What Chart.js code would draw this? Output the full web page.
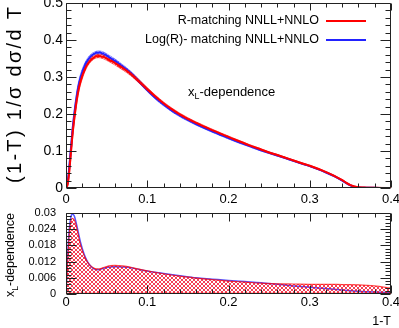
<!DOCTYPE html>
<html><head><meta charset="utf-8">
<script src="https://cdn.jsdelivr.net/npm/chart.js@4.4.0/dist/chart.umd.min.js"></script>
<style>
html,body{margin:0;padding:0;background:#fff;}
#wrap{position:relative;width:399px;height:328px;overflow:hidden;}
#c1{position:absolute;left:0;top:0;}
#c2{position:absolute;left:0;top:206px;}
</style></head>
<body><div id="wrap"><canvas id="c1" width="399" height="212"></canvas><canvas id="c2" width="399" height="122"></canvas></div>
<script>
// ---------- data ----------
const xTop = [0,0.002,0.004,0.006,0.008,0.01,0.013,0.016,0.02,0.025,0.03,0.035,0.04,0.045,0.05,0.06,0.07,0.08,0.09,0.1,0.11,0.12,0.13,0.14,0.15,0.16,0.175,0.19,0.2,0.21,0.225,0.24,0.25,0.26,0.275,0.29,0.3,0.31,0.32,0.33,0.34,0.345,0.35,0.355,0.36,0.37,0.38,0.39,0.4];
const redCentral = [0,0.01,0.045,0.095,0.145,0.185,0.235,0.272,0.303,0.329,0.345,0.354,0.357,0.355,0.350,0.338,0.324,0.308,0.288,0.267,0.247,0.229,0.213,0.199,0.187,0.176,0.161,0.147,0.138,0.129,0.116,0.104,0.096,0.089,0.078,0.067,0.06,0.052,0.043,0.033,0.021,0.014,0.008,0.004,0.002,0.001,0.0005,0.0002,0];
const redHalfBand = [0,0.006,0.012,0.014,0.014,0.014,0.012,0.010,0.008,0.006,0.0053,0.0048,0.0047,0.0049,0.005,0.0053,0.0053,0.005,0.0047,0.0043,0.004,0.0037,0.0035,0.0033,0.003,0.0029,0.0027,0.0025,0.0024,0.0023,0.0021,0.002,0.0019,0.0019,0.0018,0.0018,0.0018,0.0018,0.0018,0.0018,0.0018,0.0018,0.0017,0.0016,0.0015,0.0015,0.0014,0.0013,0.0011];
const blueCentral = [0,0.015,0.055,0.105,0.155,0.195,0.245,0.282,0.313,0.339,0.355,0.363,0.366,0.364,0.358,0.344,0.328,0.31,0.288,0.265,0.244,0.226,0.21,0.196,0.184,0.173,0.158,0.144,0.135,0.126,0.114,0.102,0.095,0.088,0.077,0.066,0.059,0.051,0.042,0.032,0.02,0.013,0.007,0.003,0.0015,0.0008,0.0004,0.0002,0];
const blueHalfBand = [0,0.007,0.012,0.014,0.015,0.0145,0.0125,0.0105,0.0085,0.0065,0.0053,0.0046,0.0045,0.0047,0.0049,0.005,0.005,0.0049,0.0046,0.0043,0.004,0.0038,0.0036,0.0034,0.0031,0.003,0.0028,0.0026,0.0025,0.0024,0.0022,0.0021,0.0019,0.0018,0.0016,0.0014,0.0013,0.0012,0.001,0.0009,0.0008,0.0007,0.0006,0.0005,0.0005,0.0004,0.0003,0.0003,0.0003];

const xBottom = [0,0.002,0.004,0.006,0.008,0.01,0.012,0.015,0.018,0.022,0.026,0.03,0.035,0.04,0.045,0.05,0.055,0.06,0.07,0.08,0.09,0.1,0.12,0.14,0.16,0.18,0.2,0.22,0.24,0.26,0.28,0.3,0.32,0.34,0.36,0.38,0.4];
const redXL = [0,0.012,0.022,0.027,0.028,0.0275,0.026,0.022,0.018,0.0145,0.012,0.0105,0.0095,0.0093,0.0097,0.0102,0.0105,0.0106,0.0104,0.0099,0.0092,0.0086,0.0075,0.0066,0.0059,0.0053,0.0048,0.0044,0.004,0.0038,0.0037,0.0036,0.0036,0.0035,0.0034,0.003,0.0022];
const blueXL = [0,0.014,0.024,0.0285,0.0295,0.029,0.027,0.023,0.019,0.015,0.0122,0.0105,0.0092,0.009,0.0094,0.0098,0.01,0.0101,0.01,0.0097,0.0091,0.0085,0.0076,0.0068,0.006,0.0055,0.005,0.0046,0.0042,0.0036,0.003,0.0025,0.002,0.0015,0.001,0.0007,0.0005];

const legendLabels = ['R-matching NNLL+NNLO', 'Log(R)- matching NNLL+NNLO'];
const topYTitle = '(1-T) 1/σ dσ/d T';
const xTitle = '1-T';

// ---------- helpers ----------
const FONT = 'Liberation Sans';
const RED = '#ff0000', BLUE = '#2222ff';
function hatch(color){
  const c=document.createElement('canvas'); c.width=4; c.height=4;
  const g=c.getContext('2d'); g.fillStyle=color;
  for(let i=0;i<4;i++){ g.fillRect(i,i,1,1); g.fillRect(3-i,i,1,1); }
  return g.createPattern(c,'repeat');
}
const pts = (xs, f) => xs.map((x,i)=>({x, y:f(i)}));
const base = {pointRadius:0, cubicInterpolationMode:'monotone', fill:false};

function frameTicks(chart, o){
  const {ctx, chartArea:a, scales:{x,y}} = chart;
  const L=Math.round(a.left)+0.5, R=Math.round(a.right)-0.5, T=Math.round(a.top)+0.5, B=Math.round(a.bottom)-0.5;
  ctx.save();
  ctx.strokeStyle='#222'; ctx.lineWidth=1;
  ctx.beginPath();
  ctx.rect(L,T,R-L,B-T);
  const nx = Math.round((x.max-x.min)/o.xMinor);
  for(let i=0;i<=nx;i++){
    const p=Math.round(x.getPixelForValue(x.min+i*o.xMinor))+0.5;
    const len = (i%o.xEvery===0)? o.xMajLen : o.xMinLen;
    ctx.moveTo(p,B); ctx.lineTo(p,B-len);
    ctx.moveTo(p,T); ctx.lineTo(p,T+len);
  }
  const ny = Math.round((y.max-y.min)/o.yMinor);
  for(let i=0;i<=ny;i++){
    const p=Math.round(y.getPixelForValue(y.min+i*o.yMinor))+0.5;
    const len = (i%o.yEvery===0)? o.yMajLen : o.yMinLen;
    ctx.moveTo(L,p); ctx.lineTo(L+len,p);
    ctx.moveTo(R,p); ctx.lineTo(R-len,p);
  }
  ctx.stroke();
  ctx.restore();
}
function subText(ctx, x, y, size, parts){
  let cx = x;
  for(const [t,sub] of parts){
    const s = sub ? size*0.68 : size;
    ctx.font = s+'px "'+FONT+'"';
    ctx.fillText(t, cx, y + (sub ? size*0.3 : 0));
    cx += ctx.measureText(t).width;
  }
}

// ---------- top chart ----------
const deco1 = {id:'deco1', afterDraw(chart){
  frameTicks(chart,{xMinor:0.02,xEvery:5,xMajLen:7,xMinLen:4,yMinor:0.02,yEvery:5,yMajLen:10,yMinLen:5});
  const ctx=chart.ctx;
  ctx.save();
  ctx.fillStyle='#000';
  ctx.textBaseline='middle'; ctx.textAlign='right';
  ctx.font='12.5px "'+FONT+'"';
  ctx.fillText(legendLabels[0], 319, 21);
  ctx.fillText(legendLabels[1], 319, 40);
  ctx.lineWidth=2;
  ctx.strokeStyle=RED; ctx.beginPath(); ctx.moveTo(326,21); ctx.lineTo(366,21); ctx.stroke();
  ctx.strokeStyle=BLUE; ctx.beginPath(); ctx.moveTo(326,40); ctx.lineTo(366,40); ctx.stroke();
  ctx.textAlign='left'; ctx.textBaseline='alphabetic';
  subText(ctx, 188, 95.5, 13, [['x',0],['L',1],['-dependence',0]]);
  // y title
  ctx.translate(15, 95);
  ctx.rotate(-Math.PI/2);
  ctx.font='20px "'+FONT+'"';
  const w = ctx.measureText(topYTitle).width;
  const ls = Math.max(0,(176 - w)/(topYTitle.length-1));
  ctx.letterSpacing = ls+'px';
  ctx.textAlign='center'; ctx.textBaseline='middle';
  ctx.fillText(topYTitle, ls/2, 0);
  ctx.restore();
}};

new Chart(document.getElementById('c1'), {
  type:'line',
  data:{datasets:[
    {...base, data:pts(xTop,i=>blueCentral[i]+blueHalfBand[i]), borderColor:'rgba(40,40,255,0.6)', borderWidth:0.8, fill:'+1', backgroundColor:hatch('rgba(40,40,255,0.6)'), order:6},
    {...base, data:pts(xTop,i=>blueCentral[i]-blueHalfBand[i]), borderColor:'rgba(40,40,255,0.6)', borderWidth:0.8, order:6},
    {...base, data:pts(xTop,i=>redCentral[i]+redHalfBand[i]), borderColor:'rgba(255,0,0,0.7)', borderWidth:0.8, fill:'+1', backgroundColor:hatch('rgba(255,0,0,0.7)'), order:4},
    {...base, data:pts(xTop,i=>redCentral[i]-redHalfBand[i]), borderColor:'rgba(255,0,0,0.7)', borderWidth:0.8, order:4},
    {...base, data:pts(xTop,i=>blueCentral[i]), borderColor:BLUE, borderWidth:2, order:2},
    {...base, data:pts(xTop,i=>redCentral[i]), borderColor:RED, borderWidth:2, order:1},
  ]},
  options:{
    responsive:false, animation:false, events:[],
    layout:{padding:{top:3,right:8,left:0,bottom:0}},
    plugins:{legend:{display:false}, tooltip:{enabled:false}},
    scales:{
      x:{type:'linear', min:0, max:0.4,
         ticks:{stepSize:0.1, padding:4, color:'#000', maxRotation:0, font:{family:FONT,size:13},
                callback:v=> v===0?'0':String(+v.toFixed(2))},
         grid:{display:false, drawTicks:false}, border:{display:false},
         afterFit:s=>{s.height=24; s.paddingLeft=0; s.paddingRight=0;}},
      y:{type:'linear', min:0, max:0.5,
         ticks:{stepSize:0.1, padding:3, color:'#000', font:{family:FONT,size:14},
                callback:v=> v===0?'0':String(+v.toFixed(2))},
         grid:{display:false, drawTicks:false}, border:{display:false},
         afterFit:s=>{s.width=66; s.paddingTop=0; s.paddingBottom=0;}}
    }
  },
  plugins:[deco1]
});

// ---------- bottom chart ----------
const deco2 = {id:'deco2', afterDraw(chart){
  frameTicks(chart,{xMinor:0.02,xEvery:5,xMajLen:8,xMinLen:4,yMinor:0.0012,yEvery:5,yMajLen:10,yMinLen:5});
  const ctx=chart.ctx;
  ctx.save();
  ctx.fillStyle='#000';
  ctx.translate(14, 297-206);
  ctx.rotate(-Math.PI/2);
  ctx.textAlign='left'; ctx.textBaseline='alphabetic';
  subText(ctx, 0, 0, 12.5, [['x',0],['L',1],['-dependence',0]]);
  ctx.restore();
}};

new Chart(document.getElementById('c2'), {
  type:'line',
  data:{datasets:[
    {...base, data:pts(xBottom,i=>blueXL[i]), borderColor:'rgba(40,40,255,0.8)', borderWidth:1.5, order:3},
    {...base, data:pts(xBottom,i=>redXL[i]), borderColor:'rgba(255,0,0,0.7)', borderWidth:1.2, fill:'origin', backgroundColor:hatch('rgba(240,0,30,0.75)'), order:2},
    {...base, data:[{x:0,y:0},{x:0.4,y:0}], borderColor:RED, borderWidth:2.5, order:1},
  ]},
  options:{
    responsive:false, animation:false, events:[],
    layout:{padding:{top:7,right:8,left:0,bottom:0}},
    plugins:{legend:{display:false}, tooltip:{enabled:false}},
    scales:{
      x:{type:'linear', min:0, max:0.4,
         ticks:{stepSize:0.1, padding:1, color:'#000', maxRotation:0, font:{family:FONT,size:13},
                callback:v=> v===0?'0':String(+v.toFixed(2))},
         title:{display:true, text:xTitle, align:'end', color:'#000', padding:{top:0,bottom:0}, font:{family:FONT,size:12.5,lineHeight:1}},
         grid:{display:false, drawTicks:false}, border:{display:false},
         afterFit:s=>{s.height=34; s.paddingLeft=0; s.paddingRight=0;}},
      y:{type:'linear', min:0, max:0.03,
         ticks:{stepSize:0.006, padding:10, color:'#000', font:{family:FONT,size:11},
                callback:v=> v===0?'0':String(+v.toFixed(4))},
         grid:{display:false, drawTicks:false}, border:{display:false},
         afterFit:s=>{s.width=66; s.paddingTop=0; s.paddingBottom=0;}}
    }
  },
  plugins:[deco2]
});
</script>
</body></html>
